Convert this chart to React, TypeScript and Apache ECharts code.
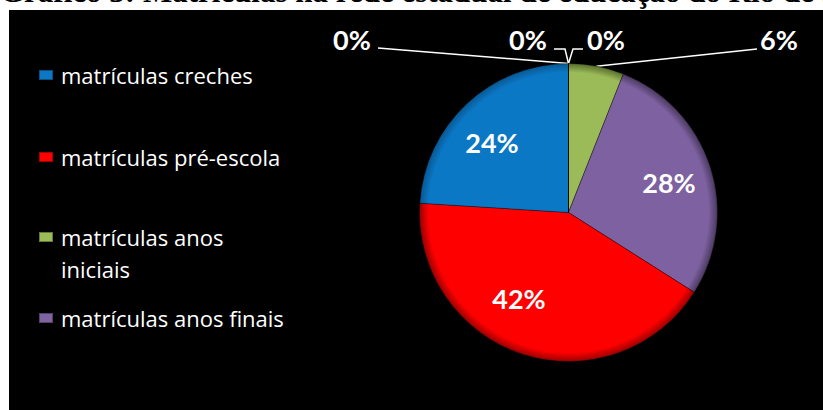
import React, { useEffect, useRef } from "react";
import * as echarts from "echarts";

// ---- data ----
const titleText = "Gráfico 3: Matrículas na rede estadual de educação do Rio de Janeiro";
const legendNames = [
  "matrículas creches",
  "matrículas pré-escola",
  "matrículas anos iniciais",
  "matrículas anos finais",
];
const legendColors = ["#0b78c6", "#fe0000", "#9bbb59", "#8064a2"];
// slices, clockwise from 12 o'clock (zero-value rows keep their labels)
const sliceNames = [
  "outros 1",
  "matrículas anos iniciais",
  "matrículas anos finais",
  "matrículas pré-escola",
  "matrículas creches",
  "outros 2",
  "outros 3",
];
const sliceValues = [0, 6, 28, 42, 24, 0, 0];
const sliceColors = ["#9bbb59", "#9bbb59", "#7d61a0", "#fe0000", "#0b78c6", "#0b78c6", "#0b78c6"];

export default function App() {
  const ref = useRef<HTMLDivElement>(null);
  useEffect(() => {
    if (!ref.current) return;
    const chart = echarts.init(ref.current, undefined, { renderer: "svg" });
    const cx = 568.5;
    const cy = 212.5;
    const R = 149;
    // label anchors relative to pie centre
    const labelAnchor: Record<number, [number, number]> = {
      0: [-216.5, -173.5],
      1: [210.5, -173.5],
      2: [100.5, -30.5],
      3: [-49.5, 85.5],
      4: [-76.5, -70.5],
      5: [-40.5, -173.5],
      6: [37.5, -173.5],
    };
    const labelBends: Record<number, [number, number][]> = {
      0: [[-190.5, -164.5]],
      1: [[188.5, -163.5]],
      5: [[-3.5, -163.5], [-14.5, -163.5]],
      6: [[4.5, -163.5], [14.5, -163.5]],
    };
    const shade = (c: string) => ({
      type: "radial",
      x: cx,
      y: cy,
      r: R,
      global: true,
      colorStops: [
        { offset: 0, color: c },
        { offset: 0.94, color: c },
        { offset: 1, color: echarts.color.modifyHSL(c, undefined, undefined, 0.3) },
      ],
    });
    const data = sliceNames.map((n, i) => {
      const inside = sliceValues[i] >= 20;
      return {
        name: n,
        value: sliceValues[i],
        itemStyle: { color: shade(sliceColors[i]) },
        label: { position: inside ? "inside" : "outside" },
        labelLine: { show: !inside },
      };
    });
    const legendTops = [59, 141, 189, 302];
    const legends = legendNames.map((n, i) => {
      const multi = i === 2;
      return {
        left: 38,
        top: multi ? 221 - 32 : legendTops[i],
        padding: 0,
        orient: "vertical",
        itemWidth: 14,
        itemHeight: 10,
        icon: "rect",
        selectedMode: false,
        data: [{ name: n, itemStyle: { color: legendColors[i] } }],
        formatter: multi ? () => " \nmatrículas anos\niniciais" : undefined,
        textStyle: {
          color: "#ffffff",
          fontFamily: "Open Sans",
          fontSize: 22,
          lineHeight: 32,
          padding: [0, 0, 0, 3],
        },
      };
    });
    chart.setOption({
      animation: false,
      backgroundColor: "#ffffff",
      graphic: [
        { type: "rect", shape: { x: 9, y: 10, width: 820, height: 410 }, style: { fill: "#000000" }, z: -10 },
        {
          type: "text",
          x: 0,
          y: 7,
          style: {
            text: titleText,
            fill: "#000000",
            font: "bold 31px 'Liberation Serif'",
            textVerticalAlign: "bottom",
          },
        },
      ],
      legend: legends,
      series: [
        {
          type: "pie",
          center: [cx, cy],
          radius: R,
          startAngle: 90,
          clockwise: true,
          avoidLabelOverlap: false,
          percentPrecision: 0,
          emphasis: { disabled: true },
          itemStyle: { borderColor: "rgba(0,0,0,0.35)", borderWidth: 1 },
          label: {
            show: true,
            formatter: "{d}%",
            color: "#ffffff",
            fontFamily: "Lato",
            fontWeight: "bold",
            fontSize: 27,
          },
          labelLine: { show: true, lineStyle: { color: "#ffffff", width: 1.5 } },
          labelLayout: (params: any) => {
            const i = params.dataIndex;
            const a = labelAnchor[i];
            const res: any = { x: cx + a[0], y: cy + a[1], align: "center", verticalAlign: "middle" };
            const b = labelBends[i];
            if (b) {
              const p0 = params.labelLinePoints && params.labelLinePoints[0]
                ? params.labelLinePoints[0]
                : [cx, cy - R];
              res.labelLinePoints = [p0, ...b.map((p) => [cx + p[0], cy + p[1]])];
            }
            return res;
          },
          data,
        },
      ],
    });
    return () => chart.dispose();
  }, []);
  return (
    <div
      ref={ref}
      style={{ position: "fixed", left: 0, top: 0, width: 823, height: 410 }}
    />
  );
}
